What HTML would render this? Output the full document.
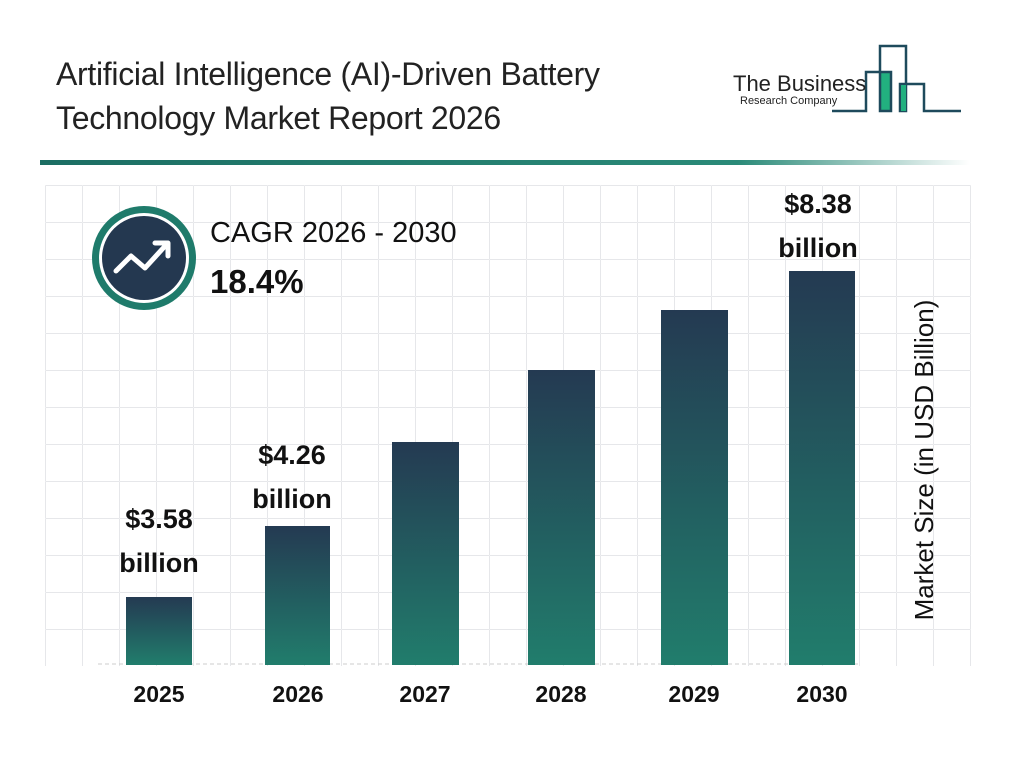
<!DOCTYPE html>
<html><head><style>
body{margin:0;width:1024px;height:768px;background:#fff;position:relative;overflow:hidden;font-family:"Liberation Sans",Roboto,sans-serif}
.t{position:absolute;left:56px;top:52px;font-size:32px;line-height:44px;color:#222;letter-spacing:-0.3px}
.lbl{position:absolute;font-weight:bold;font-size:27px;line-height:44px;text-align:center;color:#111;width:140px}
.yr{position:absolute;top:681px;font-weight:bold;font-size:23px;width:100px;text-align:center;color:#111}
</style></head><body>
<svg width="1024" height="768" style="position:absolute;left:0;top:0">
<defs>
<linearGradient id="g" x1="0" y1="0" x2="0" y2="1"><stop offset="0" stop-color="#243a52"/><stop offset="1" stop-color="#217d6c"/></linearGradient>
<linearGradient id="hl" x1="0" x2="1"><stop offset="0" stop-color="#1c6e63"/><stop offset="0.75" stop-color="#2a8a78"/><stop offset="1" stop-color="#fff"/></linearGradient>
<pattern id="grid" x="8" y="0" width="37" height="37" patternUnits="userSpaceOnUse"><path d="M0 0V37M0 0H37" stroke="#e6e7ea" stroke-width="1" fill="none" transform="translate(0.5,0.5)"/></pattern>
</defs>
<rect x="45" y="185" width="926" height="481" fill="url(#grid)"/>
<rect x="40" y="160" width="930" height="5" fill="url(#hl)"/>
<line x1="98" y1="664" x2="860" y2="664" stroke="#ccc" stroke-dasharray="4 3"/>
<rect x="126" y="597" width="66" height="68" fill="url(#g)"/>
<rect x="265" y="526" width="65" height="139" fill="url(#g)"/>
<rect x="392" y="442" width="67" height="223" fill="url(#g)"/>
<rect x="528" y="370" width="67" height="295" fill="url(#g)"/>
<rect x="661" y="310" width="67" height="355" fill="url(#g)"/>
<rect x="789" y="271" width="66" height="394" fill="url(#g)"/>
<circle cx="144" cy="258" r="52" fill="#1f7b6b"/>
<circle cx="144" cy="258" r="45" fill="#fff"/>
<circle cx="144" cy="258" r="42" fill="#243850"/>
<polyline points="116,271 131,256 145,268 166,245" fill="none" stroke="#fff" stroke-width="5" stroke-linecap="round" stroke-linejoin="round"/>
<polyline points="155,243 168,243 168,256" fill="none" stroke="#fff" stroke-width="5" stroke-linecap="round" stroke-linejoin="round"/>
<g fill="none" stroke="#1e4a5c" stroke-width="2.5">
<polyline points="832,111 866,111 866,72 880,72 880,46 906,46 906,111 900,111 900,84 924,84 924,111 961,111"/>
<rect x="880" y="72" width="11" height="39" fill="#22b07f"/>
<rect x="901" y="85" width="5" height="26" fill="#22b07f" stroke="none"/>
</g>
<text x="933" y="460" transform="rotate(-90 933 460)" text-anchor="middle" font-family="Liberation Sans" font-size="26" fill="#111">Market Size (in USD Billion)</text>
</svg>
<div class="t">Artificial Intelligence (AI)-Driven Battery<br>Technology Market Report 2026</div>
<div style="position:absolute;left:733px;top:71px;font-size:22px;color:#222">The Business</div>
<div style="position:absolute;left:740px;top:95px;font-size:11px;color:#222">Research Company</div>
<div style="position:absolute;left:210px;top:217px;font-size:29px;color:#111">CAGR 2026 - 2030</div>
<div style="position:absolute;left:210px;top:263px;font-size:33px;font-weight:bold;color:#111">18.4%</div>
<div class="lbl" style="left:89px;top:497px">$3.58<br>billion</div>
<div class="lbl" style="left:222px;top:433px">$4.26<br>billion</div>
<div class="lbl" style="left:748px;top:182px">$8.38<br>billion</div>
<div class="yr" style="left:109px">2025</div>
<div class="yr" style="left:248px">2026</div>
<div class="yr" style="left:375px">2027</div>
<div class="yr" style="left:511px">2028</div>
<div class="yr" style="left:644px">2029</div>
<div class="yr" style="left:772px">2030</div>
</body></html>
